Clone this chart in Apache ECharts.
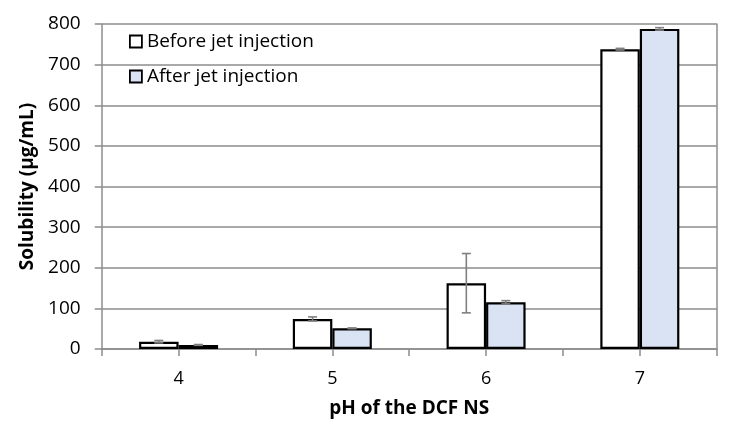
<!DOCTYPE html>
<html>
<head>
<meta charset="utf-8">
<script src="https://cdn.jsdelivr.net/npm/echarts@6/dist/echarts.min.js"></script>
<style>
html,body{margin:0;padding:0;background:#fff;}
#chart{width:729px;height:433px;}
</style>
</head>
<body>
<div id="chart"></div>
<script>
var categories = ['4', '5', '6', '7'];
var beforeValues = [18, 74, 162, 738];
var beforeErrors = [3, 5, 73, 2];
var afterValues = [10, 51, 115, 788];
var afterErrors = [1, 1, 4, 3];
var yTicks = [0, 100, 200, 300, 400, 500, 600, 700, 800];

var FONT = 'Open Sans';
var GRAY = '#8c8c8c';
var BAR_FRAC = 0.257;

function errData(vals, errs) {
  return vals.map(function (v, i) { return [i, v - errs[i], v + errs[i]]; });
}
function errRender(side) {
  return function (params, api) {
    var i = api.value(0);
    var lo = api.coord([i, api.value(1)]);
    var hi = api.coord([i, api.value(2)]);
    var band = api.size([1, 0])[0];
    var x = lo[0] + side * band * BAR_FRAC / 2;
    var cap = 4.5;
    var st = { stroke: '#7f7f7f', lineWidth: 1.6 };
    return {
      type: 'group',
      children: [
        { type: 'line', shape: { x1: x, y1: lo[1], x2: x, y2: hi[1] }, style: st },
        { type: 'line', shape: { x1: x - cap, y1: lo[1], x2: x + cap, y2: lo[1] }, style: st },
        { type: 'line', shape: { x1: x - cap, y1: hi[1], x2: x + cap, y2: hi[1] }, style: st }
      ]
    };
  };
}

var chart = echarts.init(document.getElementById('chart'));
chart.setOption({
  animation: false,
  textStyle: { fontFamily: FONT },
  grid: { left: 101.7, right: 12.3, top: 24, bottom: 84 },
  legend: {
    orient: 'vertical',
    left: 129,
    top: 30,
    padding: 0,
    itemWidth: 12,
    itemHeight: 12,
    itemGap: 12,
    textStyle: { fontFamily: FONT, fontSize: 19, color: '#000', lineHeight: 23 },
    data: [
      { name: 'Before jet injection', icon: 'rect', itemStyle: { color: '#ffffff', borderColor: '#000', borderWidth: 1.8 } },
      { name: 'After jet injection', icon: 'rect', itemStyle: { color: '#dae3f3', borderColor: '#000', borderWidth: 1.8 } }
    ]
  },
  xAxis: [
    {
      type: 'category',
      data: categories,
      axisLine: { lineStyle: { color: GRAY, width: 1.5 } },
      axisTick: { show: false },
      axisLabel: { fontFamily: FONT, fontSize: 18, color: '#000', margin: 21 },
      name: 'pH of the DCF NS',
      nameLocation: 'middle',
      nameGap: 50,
      nameTextStyle: { fontFamily: FONT, fontSize: 19, fontWeight: 'bold', color: '#000' }
    },
    {
      type: 'category',
      data: ['', '', '', '', '', '', '', ''],
      position: 'bottom',
      axisLine: { show: false },
      axisTick: { show: true, length: 7, lineStyle: { color: GRAY, width: 1.5 } },
      axisLabel: { show: false }
    }
  ],
  yAxis: [
    {
      type: 'value',
      min: 0,
      max: 800,
      interval: 100,
      axisLine: { show: true, lineStyle: { color: GRAY, width: 1.5 } },
      axisTick: { show: true, length: 7, lineStyle: { color: GRAY, width: 1.5 } },
      splitLine: { lineStyle: { color: GRAY, width: 1.5 } },
      axisLabel: {
        fontFamily: FONT, fontSize: 19, color: '#000', margin: 21,
        formatter: function (v) { return yTicks.indexOf(v) >= 0 ? String(v) : ''; }
      },
      name: 'Solubility (µg/mL)',
      nameLocation: 'middle',
      nameGap: 65,
      nameTextStyle: { fontFamily: FONT, fontSize: 19, fontWeight: 'bold', color: '#000' }
    },
    {
      type: 'value',
      min: 0,
      max: 800,
      interval: 100,
      position: 'right',
      axisLine: { show: true, lineStyle: { color: GRAY, width: 1.5 } },
      axisTick: { show: false },
      axisLabel: { show: false },
      splitLine: { show: false }
    }
  ],
  series: [
    {
      name: 'Before jet injection',
      type: 'bar',
      data: beforeValues,
      barWidth: (BAR_FRAC * 100) + '%',
      barGap: '0%',
      itemStyle: { color: '#ffffff', borderColor: '#000', borderWidth: 2.2 },
      z: 2
    },
    {
      name: 'After jet injection',
      type: 'bar',
      data: afterValues,
      barWidth: (BAR_FRAC * 100) + '%',
      barGap: '0%',
      itemStyle: { color: '#dae3f3', borderColor: '#000', borderWidth: 2.2 },
      z: 2
    },
    {
      type: 'custom',
      renderItem: errRender(-1),
      data: errData(beforeValues, beforeErrors),
      encode: { x: 0, y: [1, 2] },
      z: 5
    },
    {
      type: 'custom',
      renderItem: errRender(1),
      data: errData(afterValues, afterErrors),
      encode: { x: 0, y: [1, 2] },
      z: 5
    }
  ]
});
</script>
</body>
</html>
